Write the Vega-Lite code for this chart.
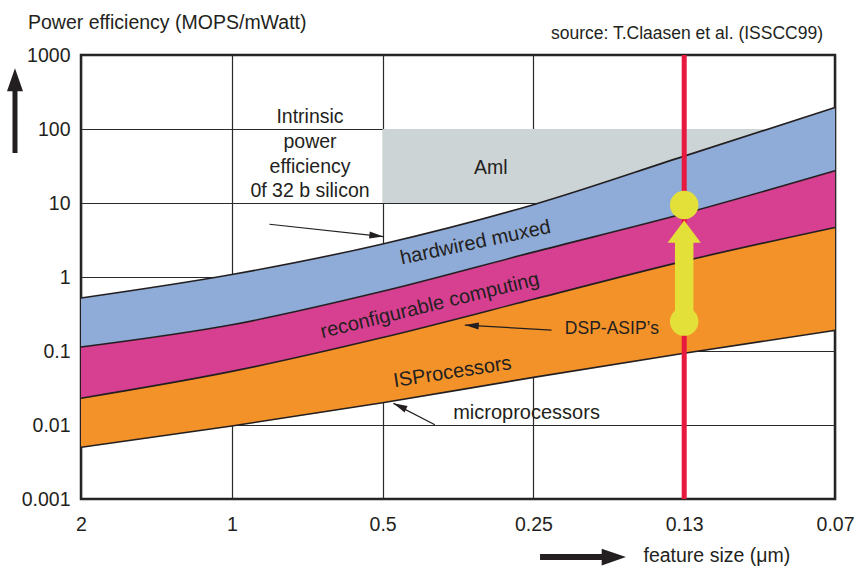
{
  "$schema": "https://vega.github.io/schema/vega-lite/v6.json",
  "width": 754,
  "height": 444,
  "autosize": {"type": "none"},
  "padding": {"left": 81, "top": 55, "right": 20, "bottom": 67},
  "background": "white",
  "config": {
    "font": "Liberation Sans",
    "view": {"stroke": "#231f20", "strokeWidth": 2.5},
    "text": {"color": "#231f20", "font": "Liberation Sans"},
    "axis": {
      "labelFont": "Liberation Sans",
      "titleFont": "Liberation Sans",
      "labelColor": "#231f20",
      "titleColor": "#231f20",
      "titleFontWeight": "normal",
      "labelFontSize": 19.5,
      "titleFontSize": 19.5,
      "ticks": false,
      "tickSize": 0,
      "domain": false,
      "grid": true,
      "gridColor": "#2a2a2a",
      "gridWidth": 1.2,
      "gridOpacity": 1,
      "zindex": 1,
      "labelFlush": false,
      "labelOverlap": false,
      "labelBound": false
    }
  },
  "datasets": {
    "bands": [
      {"size": 2, "band": "hardwired muxed", "lo": 0.113, "hi": 0.52},
      {"size": 1, "band": "hardwired muxed", "lo": 0.226, "hi": 1.08},
      {"size": 0.5, "band": "hardwired muxed", "lo": 0.64, "hi": 2.8},
      {"size": 0.25, "band": "hardwired muxed", "lo": 2.17, "hi": 9.5},
      {"size": 0.125, "band": "hardwired muxed", "lo": 7.2, "hi": 43},
      {"size": 0.0625, "band": "hardwired muxed", "lo": 27.3, "hi": 195},
      {"size": 2, "band": "reconfigurable computing", "lo": 0.023, "hi": 0.113},
      {"size": 1, "band": "reconfigurable computing", "lo": 0.053, "hi": 0.226},
      {"size": 0.5, "band": "reconfigurable computing", "lo": 0.152, "hi": 0.64},
      {"size": 0.25, "band": "reconfigurable computing", "lo": 0.5, "hi": 2.17},
      {"size": 0.125, "band": "reconfigurable computing", "lo": 1.64, "hi": 7.2},
      {"size": 0.0625, "band": "reconfigurable computing", "lo": 4.67, "hi": 27.3},
      {"size": 2, "band": "ISProcessors", "lo": 0.005, "hi": 0.023},
      {"size": 1, "band": "ISProcessors", "lo": 0.0097, "hi": 0.053},
      {"size": 0.5, "band": "ISProcessors", "lo": 0.02, "hi": 0.152},
      {"size": 0.25, "band": "ISProcessors", "lo": 0.044, "hi": 0.5},
      {"size": 0.125, "band": "ISProcessors", "lo": 0.093, "hi": 1.64},
      {"size": 0.0625, "band": "ISProcessors", "lo": 0.19, "hi": 4.67}
    ]
  },
  "layer": [
    {
      "data": {"values": [{"region": "AmI", "size": 0.5, "size2": 0.0625, "v": 10, "v2": 100}]},
      "mark": {"type": "rect", "color": "#cdd4d6"},
      "encoding": {
        "x": {
          "field": "size", "type": "quantitative",
          "scale": {"type": "log", "base": 2, "domain": [0.0625, 2], "reverse": true, "nice": false},
          "axis": {
            "values": [2, 1, 0.5, 0.25, 0.125, 0.0625],
            "labelExpr": "datum.value == 0.125 ? '0.13' : datum.value == 0.0625 ? '0.07' : format(datum.value, '~g')",
            "labelPadding": 16,
            "gridColor": {"condition": {"test": "datum.value == 0.125", "value": "transparent"}, "value": "#2a2a2a"},
            "title": "feature size (μm)",
            "titleX": 562,
            "titleY": 62.7,
            "titleAlign": "left",
            "titleBaseline": "alphabetic"
          }
        },
        "x2": {"field": "size2"},
        "y": {
          "field": "v", "type": "quantitative",
          "scale": {"type": "log", "domain": [0.001, 1000], "nice": false},
          "axis": {
            "values": [0.001, 0.01, 0.1, 1, 10, 100, 1000],
            "format": "~g",
            "labelPadding": 11,
            "title": "Power efficiency (MOPS/mWatt)",
            "titleAngle": 0,
            "titleX": -53.5,
            "titleY": -26.7,
            "titleAlign": "left",
            "titleBaseline": "alphabetic"
          }
        },
        "y2": {"field": "v2"}
      }
    },
    {
      "data": {"name": "bands"},
      "mark": {"type": "area", "interpolate": "monotone", "opacity": 1},
      "encoding": {
        "x": {"field": "size", "type": "quantitative"},
        "y": {"field": "hi", "type": "quantitative", "stack": null},
        "y2": {"field": "lo"},
        "color": {
          "field": "band", "type": "nominal",
          "scale": {"domain": ["hardwired muxed", "reconfigurable computing", "ISProcessors"], "range": ["#8fabd7", "#d73f91", "#f39229"]},
          "legend": null
        }
      }
    },
    {
      "data": {"name": "bands"},
      "mark": {"type": "line", "interpolate": "monotone", "color": "#231f20", "strokeWidth": 1.6},
      "encoding": {
        "x": {"field": "size", "type": "quantitative"},
        "y": {"field": "hi", "type": "quantitative"},
        "detail": {"field": "band"}
      }
    },
    {
      "data": {"name": "bands"},
      "transform": [{"filter": "datum.band == 'ISProcessors'"}],
      "mark": {"type": "line", "interpolate": "monotone", "color": "#231f20", "strokeWidth": 1.6},
      "encoding": {
        "x": {"field": "size", "type": "quantitative"},
        "y": {"field": "lo", "type": "quantitative"}
      }
    },
    {
      "data": {"values": [{"size": 0.125}]},
      "mark": {"type": "rule", "color": "#e8193f", "strokeWidth": 5},
      "encoding": {"x": {"field": "size", "type": "quantitative"}}
    },
    {
      "data": {"values": [{"size": 0.125, "v": 0.25, "v2": 3.4}]},
      "mark": {"type": "rule", "color": "#e3e03a", "strokeWidth": 18.5},
      "encoding": {
        "x": {"field": "size", "type": "quantitative"},
        "y": {"field": "v", "type": "quantitative"},
        "y2": {"field": "v2"}
      }
    },
    {
      "data": {"values": [{"size": 0.125, "v": 5.8}]},
      "mark": {"type": "point", "shape": "M0,0L1,1.33L-1,1.33Z", "size": 1109, "filled": true, "opacity": 1, "color": "#e3e03a", "strokeWidth": 0},
      "encoding": {
        "x": {"field": "size", "type": "quantitative"},
        "y": {"field": "v", "type": "quantitative"}
      }
    },
    {
      "data": {"values": [{"size": 0.125, "v": 9.4}, {"size": 0.125, "v": 0.25}]},
      "mark": {"type": "point", "shape": "circle", "size": 812, "filled": true, "opacity": 1, "color": "#e3e03a", "strokeWidth": 0},
      "encoding": {
        "x": {"field": "size", "type": "quantitative"},
        "y": {"field": "v", "type": "quantitative"}
      }
    },
    {
      "data": {"values": [{"size": 0.698, "v": 120, "label": "Intrinsic\npower\nefficiency\n0f 32 b silicon"}]},
      "mark": {"type": "text", "fontSize": 19.5, "align": "center", "baseline": "alphabetic", "lineBreak": "\n", "lineHeight": 24.7},
      "encoding": {
        "x": {"field": "size", "type": "quantitative"},
        "y": {"field": "v", "type": "quantitative"},
        "text": {"field": "label"}
      }
    },
    {
      "data": {"values": [{"size": 0.304, "v": 24.8, "label": "Aml"}]},
      "mark": {"type": "text", "fontSize": 19.5, "align": "center", "baseline": "alphabetic"},
      "encoding": {
        "x": {"field": "size", "type": "quantitative"},
        "y": {"field": "v", "type": "quantitative"},
        "text": {"field": "label"}
      }
    },
    {
      "data": {"values": [{"size": 0.3245, "v": 2.42, "label": "hardwired muxed"}]},
      "mark": {"type": "text", "fontSize": 20, "align": "center", "baseline": "alphabetic", "angle": 348},
      "encoding": {
        "x": {"field": "size", "type": "quantitative"},
        "y": {"field": "v", "type": "quantitative"},
        "text": {"field": "label"}
      }
    },
    {
      "data": {"values": [{"size": 0.3998, "v": 0.343, "label": "reconfigurable computing"}]},
      "mark": {"type": "text", "fontSize": 20, "align": "center", "baseline": "alphabetic", "angle": 346.2},
      "encoding": {
        "x": {"field": "size", "type": "quantitative"},
        "y": {"field": "v", "type": "quantitative"},
        "text": {"field": "label"}
      }
    },
    {
      "data": {"values": [{"size": 0.3612, "v": 0.043, "label": "ISProcessors"}]},
      "mark": {"type": "text", "fontSize": 20, "align": "center", "baseline": "alphabetic", "angle": 351.2},
      "encoding": {
        "x": {"field": "size", "type": "quantitative"},
        "y": {"field": "v", "type": "quantitative"},
        "text": {"field": "label"}
      }
    },
    {
      "data": {"values": [{"size": 0.258, "v": 0.012, "label": "microprocessors"}]},
      "mark": {"type": "text", "fontSize": 20, "align": "center", "baseline": "alphabetic"},
      "encoding": {
        "x": {"field": "size", "type": "quantitative"},
        "y": {"field": "v", "type": "quantitative"},
        "text": {"field": "label"}
      }
    },
    {
      "data": {"values": [{"size": 0.1743, "v": 0.169, "label": "DSP-ASIP’s"}]},
      "mark": {"type": "text", "fontSize": 17.5, "align": "center", "baseline": "alphabetic"},
      "encoding": {
        "x": {"field": "size", "type": "quantitative"},
        "y": {"field": "v", "type": "quantitative"},
        "text": {"field": "label"}
      }
    },
    {
      "data": {"values": [{"size": 0.0625, "v": 1629, "label": "source: T.Claasen et al. (ISSCC99)"}]},
      "mark": {"type": "text", "fontSize": 17.5, "align": "right", "baseline": "alphabetic", "dx": -12},
      "encoding": {
        "x": {"field": "size", "type": "quantitative"},
        "y": {"field": "v", "type": "quantitative"},
        "text": {"field": "label"}
      }
    },
    {
      "data": {"values": [
        {"note": "intrinsic", "size": 0.841, "v": 5.16, "size2": 0.4983, "v2": 3.52},
        {"note": "DSP-ASIP", "size": 0.23, "v": 0.192, "size2": 0.3427, "v2": 0.224},
        {"note": "microprocessors", "size": 0.3932, "v": 0.0101, "size2": 0.4758, "v2": 0.0196}
      ]},
      "mark": {"type": "rule", "color": "#231f20", "strokeWidth": 1.2},
      "encoding": {
        "x": {"field": "size", "type": "quantitative"},
        "x2": {"field": "size2"},
        "y": {"field": "v", "type": "quantitative"},
        "y2": {"field": "v2"}
      }
    },
    {
      "data": {"values": [{"size": 0.4983, "v": 3.52}]},
      "mark": {"type": "point", "shape": "M0,0L-2,-0.5L-2,0.5Z", "size": 196, "filled": true, "opacity": 1, "color": "#231f20", "strokeWidth": 0, "angle": 6.2},
      "encoding": {
        "x": {"field": "size", "type": "quantitative"},
        "y": {"field": "v", "type": "quantitative"}
      }
    },
    {
      "data": {"values": [{"size": 0.3427, "v": 0.224}]},
      "mark": {"type": "point", "shape": "M0,0L-2,-0.5L-2,0.5Z", "size": 196, "filled": true, "opacity": 1, "color": "#231f20", "strokeWidth": 0, "angle": 183.3},
      "encoding": {
        "x": {"field": "size", "type": "quantitative"},
        "y": {"field": "v", "type": "quantitative"}
      }
    },
    {
      "data": {"values": [{"size": 0.4758, "v": 0.0196}]},
      "mark": {"type": "point", "shape": "M0,0L-2,-0.5L-2,0.5Z", "size": 196, "filled": true, "opacity": 1, "color": "#231f20", "strokeWidth": 0, "angle": 205},
      "encoding": {
        "x": {"field": "size", "type": "quantitative"},
        "y": {"field": "v", "type": "quantitative"}
      }
    },
    {
      "data": {"values": [{"size": 2.709, "v": 47.4, "v2": 394}]},
      "mark": {"type": "rule", "color": "#231f20", "strokeWidth": 5},
      "encoding": {
        "x": {"field": "size", "type": "quantitative"},
        "y": {"field": "v", "type": "quantitative"},
        "y2": {"field": "v2"}
      }
    },
    {
      "data": {"values": [{"size": 2.709, "v": 661}]},
      "mark": {"type": "point", "shape": "M0,0L1,2.875L-1,2.875Z", "size": 256, "filled": true, "opacity": 1, "color": "#231f20", "strokeWidth": 0},
      "encoding": {
        "x": {"field": "size", "type": "quantitative"},
        "y": {"field": "v", "type": "quantitative"}
      }
    },
    {
      "data": {"values": [{"size": 0.2425, "size2": 0.176, "v": 0.0001644}]},
      "mark": {"type": "rule", "color": "#231f20", "strokeWidth": 6},
      "encoding": {
        "x": {"field": "size", "type": "quantitative"},
        "x2": {"field": "size2"},
        "y": {"field": "v", "type": "quantitative"}
      }
    },
    {
      "data": {"values": [{"size": 0.1634, "v": 0.0001644}]},
      "mark": {"type": "point", "shape": "M0,0L-2.9,-1L-2.9,1Z", "size": 279, "filled": true, "opacity": 1, "color": "#231f20", "strokeWidth": 0},
      "encoding": {
        "x": {"field": "size", "type": "quantitative"},
        "y": {"field": "v", "type": "quantitative"}
      }
    }
  ]
}
